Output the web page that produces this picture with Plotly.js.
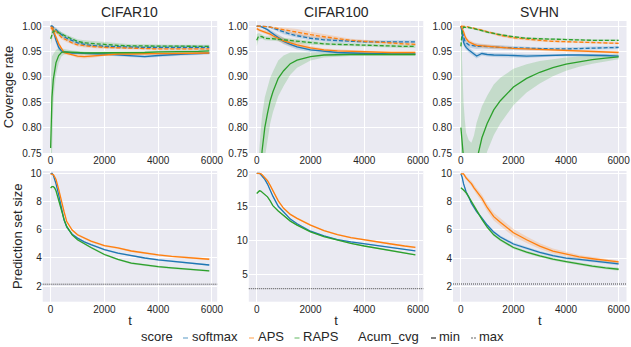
<!DOCTYPE html>
<html><head><meta charset="utf-8">
<script src="https://cdn.plot.ly/plotly-3.0.1.min.js"></script>
<style>html,body{margin:0;padding:0;background:#fff}#chart{width:631px;height:347px}</style>
</head><body><div id="chart"></div>
<script>
// ---------------- data ----------------
const datasets = ["CIFAR10", "CIFAR100", "SVHN"];
const scores = ["softmax", "APS", "RAPS"];
const tickT = [0, 2000, 4000, 6000];

const tC = [0, 50, 100, 150, 200, 300, 400, 500, 600, 800, 1000, 1250, 1500, 2000, 2500, 3000, 3500, 4000, 4500, 5000, 5500, 5900];
const tS = [0, 50, 100, 150, 200, 300, 400, 500, 600, 800, 1000, 1250, 1500, 2000, 2500, 3000, 3500, 4000, 4500, 5000, 5500, 6000];

// coverage rate: min (solid) and max (dashed) per score
const c10_softmax_min = [1.000, 1.000, 0.990, 0.980, 0.972, 0.958, 0.951, 0.949, 0.948, 0.947, 0.947, 0.946, 0.946, 0.945, 0.943, 0.941, 0.940, 0.942, 0.944, 0.945, 0.946, 0.947];
const c10_aps_min     = [0.995, 0.995, 0.990, 0.985, 0.978, 0.965, 0.955, 0.948, 0.946, 0.944, 0.941, 0.940, 0.941, 0.944, 0.945, 0.945, 0.946, 0.946, 0.946, 0.946, 0.947, 0.947];
const c10_raps_min    = [0.760, 0.860, 0.895, 0.915, 0.928, 0.942, 0.948, 0.949, 0.949, 0.948, 0.948, 0.947, 0.947, 0.947, 0.947, 0.948, 0.948, 0.949, 0.949, 0.950, 0.950, 0.951];
const c10_softmax_max = [1.000, 1.000, 0.998, 0.996, 0.993, 0.988, 0.983, 0.979, 0.976, 0.971, 0.967, 0.964, 0.962, 0.960, 0.959, 0.958, 0.958, 0.958, 0.958, 0.958, 0.958, 0.958];
const c10_aps_max     = [0.998, 0.998, 0.995, 0.993, 0.990, 0.984, 0.978, 0.975, 0.972, 0.967, 0.963, 0.961, 0.960, 0.958, 0.957, 0.956, 0.956, 0.955, 0.955, 0.955, 0.955, 0.955];
const c10_raps_max    = [0.975, 0.985, 0.990, 0.990, 0.990, 0.987, 0.985, 0.982, 0.979, 0.974, 0.970, 0.967, 0.966, 0.963, 0.962, 0.961, 0.961, 0.960, 0.960, 0.960, 0.960, 0.960];
const c10_softmax_min_ci = [0, 0.002, 0.006, 0.007, 0.007, 0.006, 0.004, 0.003, 0.003, 0.003, 0.003, 0.003, 0.003, 0.003, 0.003, 0.003, 0.003, 0.003, 0.003, 0.003, 0.003, 0.003];
const c10_aps_min_ci     = [0.004, 0.004, 0.005, 0.006, 0.006, 0.005, 0.004, 0.003, 0.003, 0.003, 0.004, 0.004, 0.004, 0.003, 0.002, 0.002, 0.002, 0.002, 0.002, 0.002, 0.002, 0.002];
const c10_raps_min_ci    = [0.12, 0.08, 0.05, 0.035, 0.025, 0.015, 0.008, 0.005, 0.004, 0.004, 0.003, 0.003, 0.003, 0.003, 0.003, 0.003, 0.003, 0.003, 0.003, 0.003, 0.003, 0.003];
const c10_softmax_max_ci = [0, 0.001, 0.002, 0.003, 0.004, 0.005, 0.005, 0.005, 0.005, 0.005, 0.004, 0.004, 0.003, 0.003, 0.003, 0.003, 0.003, 0.004, 0.004, 0.004, 0.004, 0.004];
const c10_aps_max_ci     = [0.002, 0.002, 0.003, 0.003, 0.004, 0.004, 0.004, 0.004, 0.004, 0.003, 0.003, 0.003, 0.003, 0.003, 0.002, 0.002, 0.002, 0.002, 0.002, 0.002, 0.002, 0.002];
const c10_raps_max_ci    = [0.012, 0.008, 0.006, 0.005, 0.005, 0.004, 0.004, 0.004, 0.004, 0.004, 0.004, 0.005, 0.005, 0.005, 0.004, 0.003, 0.003, 0.003, 0.003, 0.003, 0.003, 0.003];

const c100_softmax_min = [1.000, 1.000, 1.000, 0.999, 0.998, 0.996, 0.993, 0.989, 0.985, 0.977, 0.970, 0.964, 0.959, 0.953, 0.950, 0.948, 0.947, 0.946, 0.946, 0.945, 0.945, 0.945];
const c100_aps_min     = [0.995, 0.993, 0.992, 0.991, 0.990, 0.989, 0.987, 0.984, 0.981, 0.976, 0.971, 0.967, 0.963, 0.957, 0.953, 0.951, 0.950, 0.949, 0.948, 0.948, 0.948, 0.948];
const c100_raps_min    = [0.500, 0.600, 0.660, 0.715, 0.755, 0.800, 0.828, 0.853, 0.870, 0.897, 0.912, 0.926, 0.933, 0.940, 0.943, 0.944, 0.944, 0.944, 0.944, 0.944, 0.944, 0.944];
const c100_softmax_max = [1.000, 1.000, 1.000, 1.000, 1.000, 1.000, 0.999, 0.998, 0.996, 0.992, 0.988, 0.984, 0.981, 0.976, 0.973, 0.971, 0.970, 0.969, 0.969, 0.969, 0.969, 0.969];
const c100_aps_max     = [1.000, 1.000, 1.000, 1.000, 1.000, 0.999, 0.999, 0.998, 0.997, 0.995, 0.993, 0.990, 0.988, 0.983, 0.979, 0.975, 0.972, 0.970, 0.968, 0.966, 0.965, 0.964];
const c100_raps_max    = [0.972, 0.978, 0.980, 0.980, 0.979, 0.976, 0.976, 0.975, 0.975, 0.974, 0.973, 0.972, 0.970, 0.967, 0.965, 0.964, 0.963, 0.962, 0.961, 0.961, 0.960, 0.960];
const c100_softmax_min_ci = [0, 0, 0, 0.001, 0.001, 0.002, 0.003, 0.004, 0.005, 0.006, 0.006, 0.005, 0.005, 0.004, 0.003, 0.003, 0.002, 0.002, 0.002, 0.002, 0.002, 0.002];
const c100_aps_min_ci     = [0.003, 0.003, 0.003, 0.003, 0.003, 0.004, 0.004, 0.005, 0.005, 0.006, 0.006, 0.006, 0.005, 0.004, 0.003, 0.003, 0.003, 0.003, 0.002, 0.002, 0.002, 0.002];
const c100_raps_min_ci    = [0.15, 0.12, 0.10, 0.08, 0.07, 0.06, 0.05, 0.045, 0.04, 0.035, 0.03, 0.022, 0.015, 0.008, 0.005, 0.004, 0.003, 0.003, 0.003, 0.003, 0.003, 0.003];
const c100_softmax_max_ci = [0, 0, 0, 0, 0, 0.001, 0.001, 0.002, 0.002, 0.003, 0.004, 0.004, 0.004, 0.004, 0.004, 0.004, 0.003, 0.003, 0.003, 0.003, 0.003, 0.003];
const c100_aps_max_ci     = [0, 0, 0, 0, 0, 0.001, 0.001, 0.001, 0.002, 0.003, 0.004, 0.005, 0.006, 0.006, 0.005, 0.004, 0.003, 0.003, 0.003, 0.003, 0.003, 0.003];
const c100_raps_max_ci    = [0.012, 0.008, 0.006, 0.005, 0.004, 0.004, 0.004, 0.004, 0.004, 0.004, 0.004, 0.004, 0.004, 0.004, 0.003, 0.003, 0.003, 0.003, 0.003, 0.003, 0.003, 0.003];

const svhn_softmax_min = [1.000, 0.985, 0.968, 0.962, 0.958, 0.953, 0.949, 0.945, 0.941, 0.946, 0.944, 0.943, 0.943, 0.942, 0.941, 0.942, 0.943, 0.943, 0.943, 0.943, 0.942, 0.941];
const svhn_aps_min     = [1.000, 0.995, 0.989, 0.981, 0.975, 0.969, 0.966, 0.964, 0.962, 0.961, 0.960, 0.959, 0.958, 0.956, 0.955, 0.954, 0.953, 0.952, 0.951, 0.950, 0.949, 0.948];
const svhn_raps_min    = [0.800, 0.750, 0.720, 0.695, 0.680, 0.665, 0.670, 0.700, 0.735, 0.780, 0.808, 0.835, 0.853, 0.880, 0.897, 0.909, 0.918, 0.925, 0.930, 0.934, 0.937, 0.9395];
const svhn_softmax_max = [1.000, 0.990, 0.978, 0.971, 0.967, 0.963, 0.962, 0.961, 0.960, 0.960, 0.959, 0.959, 0.958, 0.957, 0.956, 0.955, 0.955, 0.955, 0.956, 0.957, 0.957, 0.958];
const svhn_aps_max     = [1.000, 1.000, 1.000, 0.999, 0.999, 0.998, 0.997, 0.996, 0.995, 0.992, 0.989, 0.985, 0.982, 0.977, 0.974, 0.972, 0.970, 0.969, 0.968, 0.967, 0.966, 0.966];
const svhn_raps_max    = [0.960, 0.990, 0.998, 0.998, 0.998, 0.997, 0.996, 0.995, 0.994, 0.991, 0.988, 0.985, 0.983, 0.979, 0.976, 0.975, 0.974, 0.973, 0.972, 0.972, 0.972, 0.972];
const svhn_softmax_min_ci = [0, 0.006, 0.006, 0.005, 0.005, 0.005, 0.005, 0.005, 0.005, 0.004, 0.004, 0.004, 0.004, 0.004, 0.004, 0.003, 0.003, 0.003, 0.003, 0.003, 0.003, 0.003];
const svhn_aps_min_ci     = [0, 0.004, 0.005, 0.005, 0.005, 0.004, 0.004, 0.004, 0.004, 0.004, 0.004, 0.004, 0.003, 0.003, 0.003, 0.003, 0.003, 0.003, 0.002, 0.002, 0.002, 0.002];
const svhn_raps_min_ci    = [0.20, 0.16, 0.13, 0.12, 0.11, 0.11, 0.10, 0.085, 0.075, 0.062, 0.055, 0.05, 0.045, 0.036, 0.028, 0.022, 0.017, 0.013, 0.010, 0.008, 0.006, 0.005];
const svhn_softmax_max_ci = [0, 0.005, 0.006, 0.006, 0.006, 0.005, 0.005, 0.005, 0.005, 0.004, 0.004, 0.004, 0.004, 0.004, 0.003, 0.003, 0.003, 0.003, 0.003, 0.003, 0.003, 0.003];
const svhn_aps_max_ci     = [0, 0, 0, 0.001, 0.001, 0.001, 0.001, 0.001, 0.002, 0.002, 0.002, 0.003, 0.003, 0.003, 0.003, 0.003, 0.002, 0.002, 0.002, 0.002, 0.002, 0.002];
const svhn_raps_max_ci    = [0.03, 0.008, 0.002, 0.002, 0.002, 0.002, 0.002, 0.002, 0.002, 0.002, 0.002, 0.002, 0.002, 0.002, 0.002, 0.002, 0.002, 0.002, 0.002, 0.002, 0.002, 0.002];

// prediction set size
const c10_softmax_size = [10.0, 10.05, 9.9, 9.6, 9.3, 8.5, 7.5, 6.7, 6.2, 5.7, 5.42, 5.15, 4.95, 4.6, 4.35, 4.17, 4.0, 3.87, 3.77, 3.67, 3.58, 3.5];
const c10_aps_size     = [10.0, 10.0, 9.95, 9.8, 9.6, 8.9, 8.0, 7.3, 6.6, 6.0, 5.66, 5.4, 5.2, 4.88, 4.72, 4.5, 4.35, 4.22, 4.12, 4.03, 3.96, 3.91];
const c10_raps_size    = [9.0, 9.1, 9.1, 9.0, 8.8, 8.1, 7.4, 6.75, 6.25, 5.65, 5.3, 5.0, 4.75, 4.25, 3.9, 3.63, 3.48, 3.38, 3.29, 3.21, 3.14, 3.08];
const c10_softmax_size_ci = [0, 0, 0.02, 0.03, 0.04, 0.05, 0.06, 0.06, 0.06, 0.06, 0.06, 0.06, 0.06, 0.06, 0.06, 0.06, 0.06, 0.06, 0.06, 0.06, 0.06, 0.06];
const c10_aps_size_ci     = [0, 0, 0.02, 0.03, 0.04, 0.05, 0.06, 0.07, 0.07, 0.07, 0.07, 0.07, 0.07, 0.07, 0.07, 0.07, 0.07, 0.07, 0.07, 0.07, 0.07, 0.07];
const c10_raps_size_ci    = [0.05, 0.05, 0.05, 0.05, 0.05, 0.06, 0.07, 0.07, 0.07, 0.07, 0.07, 0.07, 0.07, 0.07, 0.07, 0.07, 0.07, 0.07, 0.07, 0.07, 0.07, 0.07];

const c100_softmax_size = [20.0, 20.0, 20.0, 19.8, 19.6, 19.1, 18.4, 17.5, 16.6, 15.1, 14.2, 13.2, 12.5, 11.4, 10.7, 10.15, 9.8, 9.55, 9.25, 9.0, 8.7, 8.47];
const c100_aps_size     = [20.0, 20.0, 20.0, 19.95, 19.8, 19.4, 18.9, 18.2, 17.4, 15.9, 14.8, 13.9, 13.3, 12.3, 11.5, 10.9, 10.45, 10.1, 9.8, 9.5, 9.2, 9.0];
const c100_raps_size    = [17.0, 17.3, 17.4, 17.35, 17.2, 16.9, 16.5, 15.9, 15.2, 14.4, 13.7, 12.9, 12.3, 11.3, 10.6, 10.05, 9.6, 9.2, 8.85, 8.55, 8.2, 7.9];
const c100_softmax_size_ci = [0, 0, 0, 0.03, 0.05, 0.08, 0.1, 0.1, 0.1, 0.1, 0.1, 0.1, 0.1, 0.1, 0.1, 0.1, 0.1, 0.1, 0.1, 0.1, 0.1, 0.1];
const c100_aps_size_ci     = [0, 0, 0, 0.03, 0.05, 0.08, 0.1, 0.12, 0.12, 0.12, 0.12, 0.12, 0.12, 0.12, 0.12, 0.12, 0.12, 0.12, 0.12, 0.12, 0.12, 0.12];
const c100_raps_size_ci    = [0.1, 0.1, 0.1, 0.1, 0.1, 0.1, 0.1, 0.1, 0.1, 0.1, 0.1, 0.1, 0.1, 0.1, 0.1, 0.1, 0.1, 0.1, 0.1, 0.1, 0.1, 0.1];

const svhn_softmax_size = [10.0, 9.75, 9.3, 9.0, 8.7, 8.35, 7.9, 7.6, 7.3, 6.85, 6.35, 5.85, 5.5, 5.0, 4.7, 4.4, 4.17, 4.0, 3.9, 3.8, 3.69, 3.58];
const svhn_aps_size     = [10.0, 10.0, 10.0, 9.85, 9.7, 9.5, 9.3, 9.0, 8.75, 8.25, 7.6, 6.95, 6.55, 5.8, 5.3, 4.85, 4.5, 4.27, 4.08, 3.95, 3.83, 3.72];
const svhn_raps_size    = [9.0, 8.95, 8.85, 8.75, 8.65, 8.35, 8.0, 7.7, 7.4, 6.75, 6.2, 5.65, 5.3, 4.75, 4.42, 4.15, 3.92, 3.75, 3.58, 3.43, 3.3, 3.2];
const svhn_softmax_size_ci = [0, 0.05, 0.08, 0.1, 0.1, 0.1, 0.1, 0.1, 0.1, 0.1, 0.1, 0.1, 0.1, 0.1, 0.1, 0.1, 0.1, 0.1, 0.1, 0.1, 0.1, 0.1];
const svhn_aps_size_ci     = [0, 0.05, 0.08, 0.1, 0.12, 0.15, 0.18, 0.2, 0.22, 0.25, 0.27, 0.28, 0.28, 0.26, 0.23, 0.2, 0.18, 0.16, 0.14, 0.13, 0.12, 0.11];
const svhn_raps_size_ci    = [0.05, 0.05, 0.08, 0.1, 0.1, 0.1, 0.1, 0.1, 0.1, 0.1, 0.1, 0.1, 0.1, 0.1, 0.1, 0.1, 0.1, 0.1, 0.1, 0.1, 0.1, 0.1];

// dotted reference line on set size panels
const refSize = [2.13, 2.86, 2.15];

// ---------------- styling ----------------
const FONT = "Liberation Sans, Arial, Helvetica, sans-serif";
const TXT = "#262626";
const LINE = {softmax: "#1f77b4", APS: "#ff7f0e", RAPS: "#2ca02c"};
const FILL = {softmax: "rgba(31,119,180,0.2)", APS: "rgba(255,127,14,0.2)", RAPS: "rgba(44,160,44,0.2)"};
const W = 631, H = 347;

const cov = [
  {t: tC, softmax: [c10_softmax_min, c10_softmax_max, c10_softmax_min_ci, c10_softmax_max_ci],
          APS: [c10_aps_min, c10_aps_max, c10_aps_min_ci, c10_aps_max_ci],
          RAPS: [c10_raps_min, c10_raps_max, c10_raps_min_ci, c10_raps_max_ci]},
  {t: tC, softmax: [c100_softmax_min, c100_softmax_max, c100_softmax_min_ci, c100_softmax_max_ci],
          APS: [c100_aps_min, c100_aps_max, c100_aps_min_ci, c100_aps_max_ci],
          RAPS: [c100_raps_min, c100_raps_max, c100_raps_min_ci, c100_raps_max_ci]},
  {t: tS, softmax: [svhn_softmax_min, svhn_softmax_max, svhn_softmax_min_ci, svhn_softmax_max_ci],
          APS: [svhn_aps_min, svhn_aps_max, svhn_aps_min_ci, svhn_aps_max_ci],
          RAPS: [svhn_raps_min, svhn_raps_max, svhn_raps_min_ci, svhn_raps_max_ci]}
];
const size = [
  {t: tC, softmax: [c10_softmax_size, c10_softmax_size_ci], APS: [c10_aps_size, c10_aps_size_ci], RAPS: [c10_raps_size, c10_raps_size_ci]},
  {t: tC, softmax: [c100_softmax_size, c100_softmax_size_ci], APS: [c100_aps_size, c100_aps_size_ci], RAPS: [c100_raps_size, c100_raps_size_ci]},
  {t: tS, softmax: [svhn_softmax_size, svhn_softmax_size_ci], APS: [svhn_aps_size, svhn_aps_size_ci], RAPS: [svhn_raps_size, svhn_raps_size_ci]}
];

const bands = [], lines = [];
function addSeries(t, y, ci, s, xa, ya, dash) {
  bands.push({x: t, y: y.map((v, i) => v + ci[i]), xaxis: xa, yaxis: ya, type: "scatter", mode: "lines",
              line: {width: 0, color: FILL[s]}, showlegend: false, hoverinfo: "skip"});
  bands.push({x: t, y: y.map((v, i) => v - ci[i]), xaxis: xa, yaxis: ya, type: "scatter", mode: "lines",
              fill: "tonexty", fillcolor: FILL[s], line: {width: 0, color: FILL[s]}, showlegend: false, hoverinfo: "skip"});
  lines.push({x: t, y: y, xaxis: xa, yaxis: ya, type: "scatter", mode: "lines", name: s,
              line: {width: 1.3, color: LINE[s], dash: dash || "solid"}, showlegend: false});
}
for (let p = 0; p < 3; p++) {
  const xa = "x" + (p === 0 ? "" : p + 1), ya = "y" + (p === 0 ? "" : p + 1);
  for (const s of scores) {
    const d = cov[p][s];
    addSeries(cov[p].t, d[1], d[3], s, xa, ya, "4px,2px");
    addSeries(cov[p].t, d[0], d[2], s, xa, ya, "solid");
  }
  const xb = "x" + (p + 4), yb = "y" + (p + 4);
  for (const s of scores) {
    const d = size[p][s];
    addSeries(size[p].t, d[0], d[1], s, xb, yb, "solid");
  }
}

// ---------------- layout ----------------
const px = v => v / W, py = v => 1 - v / H;
const xDom = [[42.7, 217.2], [248.8, 423.3], [453, 626.5]];
const topDom = [py(153), py(21)], botDom = [py(301.7), py(171)];
const xRanges = [[-295, 6195], [-295, 6195], [-300, 6300]];
const botRanges = [[0.88, 10.21], [0.93, 20.34], [0.89, 10.2]];
const botTicks = [[2, 4, 6, 8, 10], [5, 10, 15, 20], [2, 4, 6, 8, 10]];

const layout = {
  width: W, height: H, margin: {l: 0, r: 0, t: 0, b: 0},
  paper_bgcolor: "#ffffff", plot_bgcolor: "#EAEAF2",
  font: {family: FONT, color: TXT, size: 10},
  showlegend: false, annotations: [], shapes: []
};
function xAxis(p, anchor, withTitle) {
  const a = {domain: [px(xDom[p][0]), px(xDom[p][1])], range: xRanges[p], anchor: anchor,
    tickvals: tickT, ticktext: tickT.map(String), showgrid: true, gridcolor: "#ffffff", gridwidth: 1,
    zeroline: false, showline: false, ticks: "", ticklabeloverflow: "allow",
    tickfont: {size: 10, color: TXT, family: FONT}};
  if (withTitle) a.title = {text: "t", font: {size: 13, color: TXT, family: FONT}, standoff: 2};
  return a;
}
function yAxis(dom, range, tickvals, fmt, anchor, title) {
  const a = {domain: dom, range: range, anchor: anchor, tickvals: tickvals, tickformat: fmt,
    showgrid: true, gridcolor: "#ffffff", gridwidth: 1, zeroline: false, showline: false, ticks: "",
    tickfont: {size: 10, color: TXT, family: FONT}};
  if (title) a.title = {text: title, font: {size: 13, color: TXT, family: FONT}, standoff: 5};
  return a;
}
const covTicks = [0.75, 0.80, 0.85, 0.90, 0.95, 1.00];
for (let p = 0; p < 3; p++) {
  const k = p === 0 ? "" : String(p + 1);
  layout["xaxis" + k] = xAxis(p, "y" + k, false);
  layout["yaxis" + k] = yAxis(topDom, [0.75, 1.01], covTicks, ".2f", "x" + k, p === 0 ? "Coverage rate" : null);
  layout["xaxis" + (p + 4)] = xAxis(p, "y" + (p + 4), true);
  layout["yaxis" + (p + 4)] = yAxis(botDom, botRanges[p], botTicks[p], "", "x" + (p + 4), p === 0 ? "Prediction set size" : null);
  layout.annotations.push({text: datasets[p], xref: "paper", yref: "paper",
    x: px((xDom[p][0] + xDom[p][1]) / 2), y: py(12), xanchor: "center", yanchor: "middle",
    showarrow: false, font: {size: 14, color: TXT, family: FONT}});
  layout.shapes.push({type: "line", xref: "x" + (p + 4) + " domain", x0: 0, x1: 1,
    yref: "y" + (p + 4), y0: refSize[p], y1: refSize[p], line: {color: "#444444", width: 1, dash: "1px,1px"}});
}

// legend (seaborn-style, drawn with text + short handles)
const legY = py(336);
const legText = [["score", 140.6], ["softmax", 192.2], ["APS", 258.3], ["RAPS", 303.2], ["Acum_cvg", 358], ["min", 439.4], ["max", 479]];
for (const [txt, x] of legText) {
  layout.annotations.push({text: txt, xref: "paper", yref: "paper", x: px(x - 2), y: legY,
    xanchor: "left", yanchor: "middle", showarrow: false, font: {size: 13, color: TXT, family: FONT}});
}
const legHandles = [
  [183, 188, "rgba(31,119,180,0.5)", "solid"], [249, 254, "rgba(255,127,14,0.5)", "solid"],
  [294.5, 299.5, "rgba(44,160,44,0.5)", "solid"], [431, 436, "#555555", "solid"], [471, 476, "#999999", "2px,1px"]
];
for (const [x0, x1, c, d] of legHandles) {
  layout.shapes.push({type: "line", xref: "paper", yref: "paper", x0: px(x0), x1: px(x1), y0: py(338), y1: py(338),
    line: {color: c, width: 1.5, dash: d}});
}

Plotly.newPlot("chart", bands.concat(lines), layout, {displayModeBar: false, staticPlot: true});
</script>
</body></html>
